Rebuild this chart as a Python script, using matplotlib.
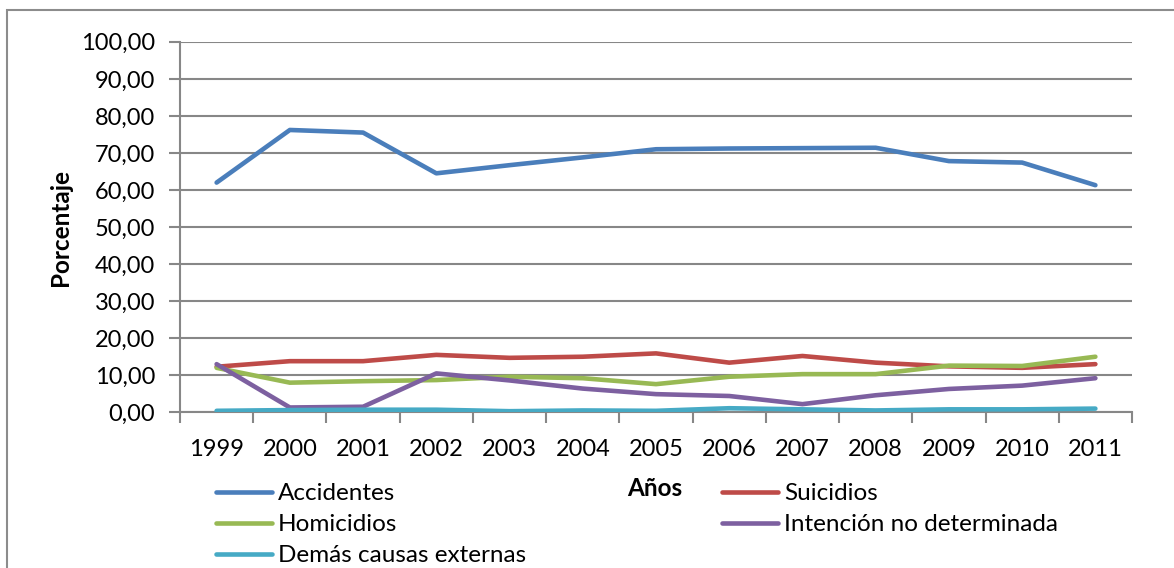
"""
Porcentaje de muertes por causas externas, 1999-2011.
"""
import matplotlib
matplotlib.use("Agg")
import matplotlib.pyplot as plt
from matplotlib.patches import Rectangle
from matplotlib.ticker import FuncFormatter

plt.rcParams["font.family"] = ["Lato", "DejaVu Sans"]

years = [1999, 2000, 2001, 2002, 2003, 2004, 2005, 2006, 2007, 2008, 2009, 2010, 2011]
accidentes = [62.0, 76.2, 75.5, 64.5, 66.7, 68.8, 71.0, 71.2, 71.3, 71.4, 67.8, 67.4, 61.3]
suicidios = [12.3, 13.8, 13.8, 15.5, 14.7, 15.0, 15.9, 13.4, 15.2, 13.4, 12.4, 12.0, 13.0]
homicidios = [12.0, 8.0, 8.4, 8.7, 9.6, 9.2, 7.6, 9.6, 10.3, 10.3, 12.6, 12.5, 15.0]
intencion = [13.0, 1.3, 1.5, 10.5, 8.6, 6.4, 4.9, 4.4, 2.2, 4.6, 6.3, 7.2, 9.2]
demas = [0.4, 0.6, 0.7, 0.7, 0.3, 0.5, 0.4, 1.1, 0.8, 0.5, 0.8, 0.8, 1.0]

series = [
    ("Accidentes", accidentes, "#4A7EBB"),
    ("Suicidios", suicidios, "#BE4B48"),
    ("Homicidios", homicidios, "#98B954"),
    ("Intención no determinada", intencion, "#7D60A0"),
    ("Demás causas externas", demas, "#46AAC5"),
]

W, H = 1174, 568
fig = plt.figure(figsize=(W / 100, H / 100), dpi=100)
ax = fig.add_axes([180 / W, 1 - 412.3 / H, (1132 - 180) / W, (412.3 - 41.8) / H])

# chart frame (right/bottom edges fall outside the image)
fig.patches.append(Rectangle((7 / W, -0.05), 1.1, 1 - 10 / H + 0.05,
                             transform=fig.transFigure, fill=False,
                             edgecolor="#8c8c8c", linewidth=1.5))

x = list(range(len(years)))
handles = {}
for name, vals, col in series:
    (h,) = ax.plot(x, vals, color=col, linewidth=3.3, solid_capstyle="round",
                   solid_joinstyle="round", label=name, zorder=3)
    handles[name] = h

grid_col = "#878787"
ax.set_ylim(0, 100)
ax.set_yticks(range(0, 101, 10))
ax.yaxis.set_major_formatter(FuncFormatter(lambda v, p: f"{v:.2f}".replace(".", ",")))
ax.grid(axis="y", color=grid_col, linewidth=1.5, zorder=1)
ax.set_xlim(-0.5, len(years) - 0.5)
ax.set_xticks([i - 0.5 for i in range(len(years) + 1)])
ax.set_xticklabels([])
ax.set_xticks(x, minor=True)
ax.set_xticklabels([str(y) for y in years], minor=True)
ax.tick_params(axis="x", which="minor", length=0, pad=19, labelsize=17)
ax.tick_params(axis="x", which="major", length=8, width=1.5, color=grid_col)
ax.tick_params(axis="y", length=8, width=1.5, color=grid_col, pad=10, labelsize=17)
for s in ["top", "right"]:
    ax.spines[s].set_visible(False)
for s in ["left", "bottom"]:
    ax.spines[s].set_color(grid_col)
    ax.spines[s].set_linewidth(1.5)

fig.text(60 / W, 1 - 227 / H, "Porcentaje", rotation=90, fontsize=17.5,
         fontweight="bold", ha="center", va="center")
fig.text(655 / W, 1 - 489 / H, "Años", fontsize=17.5, fontweight="bold",
         ha="center", va="center")

leg_kw = dict(frameon=False, fontsize=17.5, handlelength=2.3, handletextpad=0.25,
              labelspacing=0.42, borderpad=0, borderaxespad=0, loc="upper left")
left = ["Accidentes", "Homicidios", "Demás causas externas"]
right = ["Suicidios", "Intención no determinada"]
fig.legend([handles[n] for n in left], left,
           bbox_to_anchor=(216 / W, 1 - 483 / H), **leg_kw)
fig.legend([handles[n] for n in right], right,
           bbox_to_anchor=(722 / W, 1 - 483 / H), **leg_kw)

fig.savefig("out.png", dpi=100)
